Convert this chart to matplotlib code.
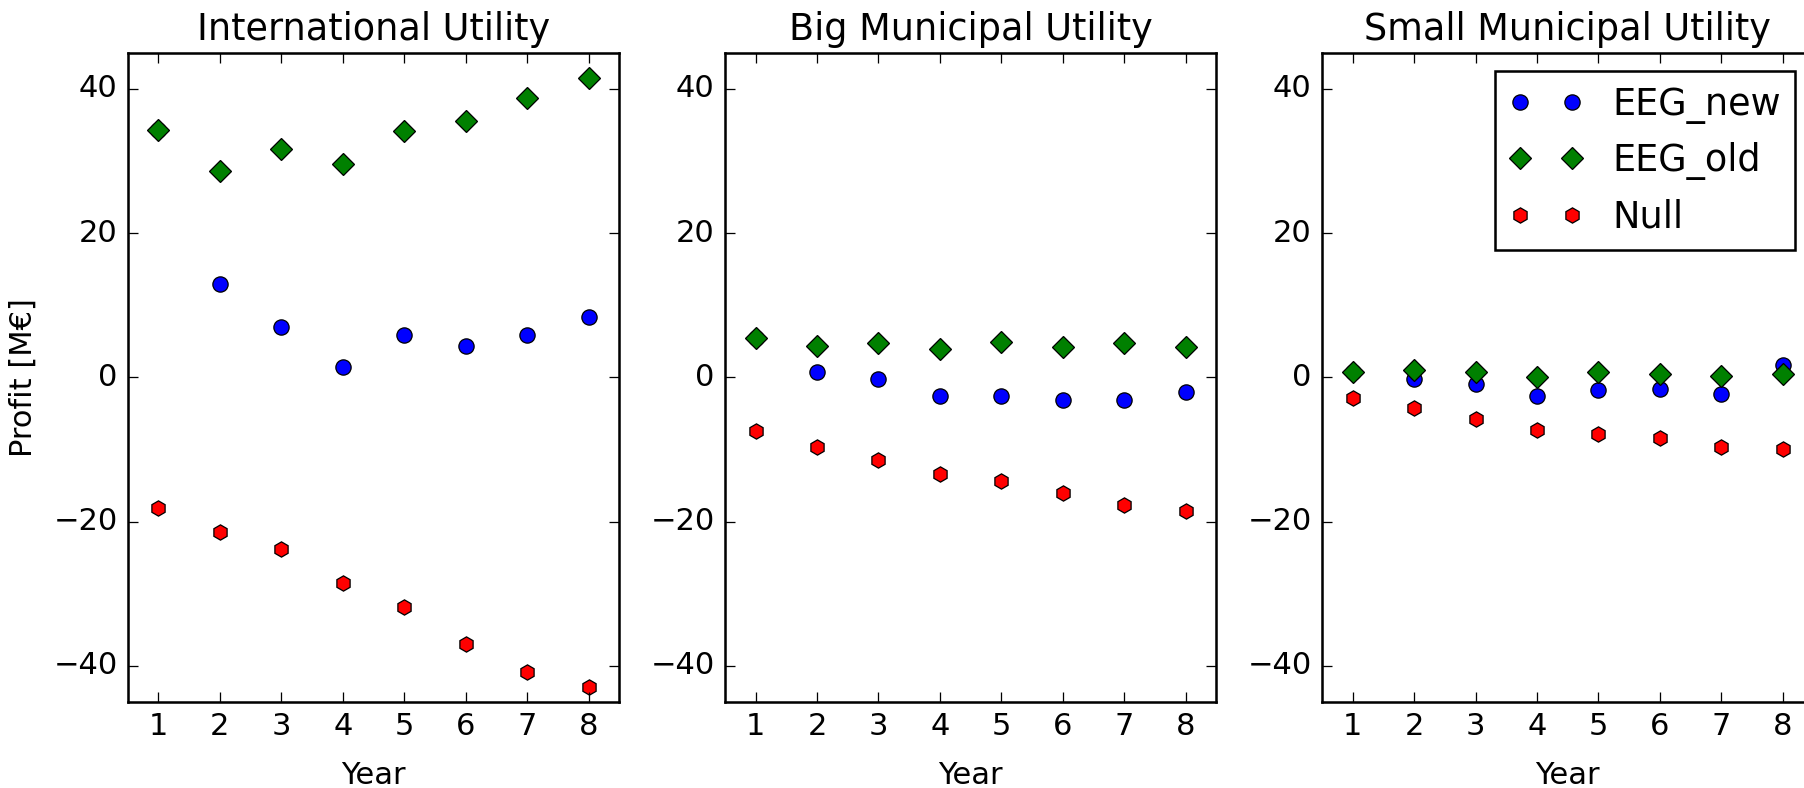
import matplotlib
matplotlib.use("Agg")
import matplotlib.pyplot as plt

# ── data (profit in M€ per year) ─────────────────────────────────────────────
years = [1, 2, 3, 4, 5, 6, 7, 8]
titles = ["International Utility", "Big Municipal Utility", "Small Municipal Utility"]

intl_new  = [34.3, 13.0, 7.0, 1.5, 5.9, 4.4, 5.9, 8.3]
intl_old  = [34.3, 28.6, 31.7, 29.6, 34.1, 35.6, 38.7, 41.5]
intl_null = [-18.1, -21.5, -23.8, -28.5, -31.9, -37.0, -40.9, -43.0]

big_new  = [5.5, 0.7, -0.3, -2.6, -2.6, -3.1, -3.1, -2.1]
big_old  = [5.5, 4.4, 4.7, 3.9, 4.9, 4.2, 4.7, 4.2]
big_null = [-7.4, -9.7, -11.5, -13.4, -14.4, -16.0, -17.7, -18.5]

small_new  = [0.8, -0.2, -0.9, -2.6, -1.8, -1.6, -2.3, 1.7]
small_old  = [0.8, 1.0, 0.8, 0.0, 0.8, 0.5, 0.2, 0.5]
small_null = [-2.8, -4.3, -5.8, -7.3, -7.9, -8.4, -9.6, -9.9]

new_series  = [intl_new, big_new, small_new]
old_series  = [intl_old, big_old, small_old]
null_series = [intl_null, big_null, small_null]

# ── figure ───────────────────────────────────────────────────────────────────
plt.style.use("classic")
DPI = 183
fig = plt.figure(figsize=(1804 / DPI, 788 / DPI), dpi=DPI, facecolor="white")

for i in range(3):
    ax = fig.add_axes([0.0708 + i * 0.3310, 0.1094, 0.2725, 0.8235])
    ax.plot(years, new_series[i], "o", color="b", mec="k", mew=0.5,
            ms=6, label="EEG_new")
    ax.plot(years, old_series[i], "D", color="g", mec="k", mew=0.5,
            ms=6, label="EEG_old")
    ax.plot(years, null_series[i], "h", color="r", mec="k", mew=0.5,
            ms=6, label="Null")

    ax.set_xlim(0.5, 8.5)
    ax.set_ylim(-45, 45)
    ax.set_xticks(years)
    ax.set_yticks([-40, -20, 0, 20, 40])
    ax.set_title(titles[i])
    ax.set_xlabel("Year", labelpad=8)
    if i == 0:
        ax.set_ylabel("Profit [M€]", labelpad=6)
    if i == 2:
        ax.legend(loc="upper right", numpoints=2)

fig.savefig("out.png", dpi=DPI, facecolor="white")
